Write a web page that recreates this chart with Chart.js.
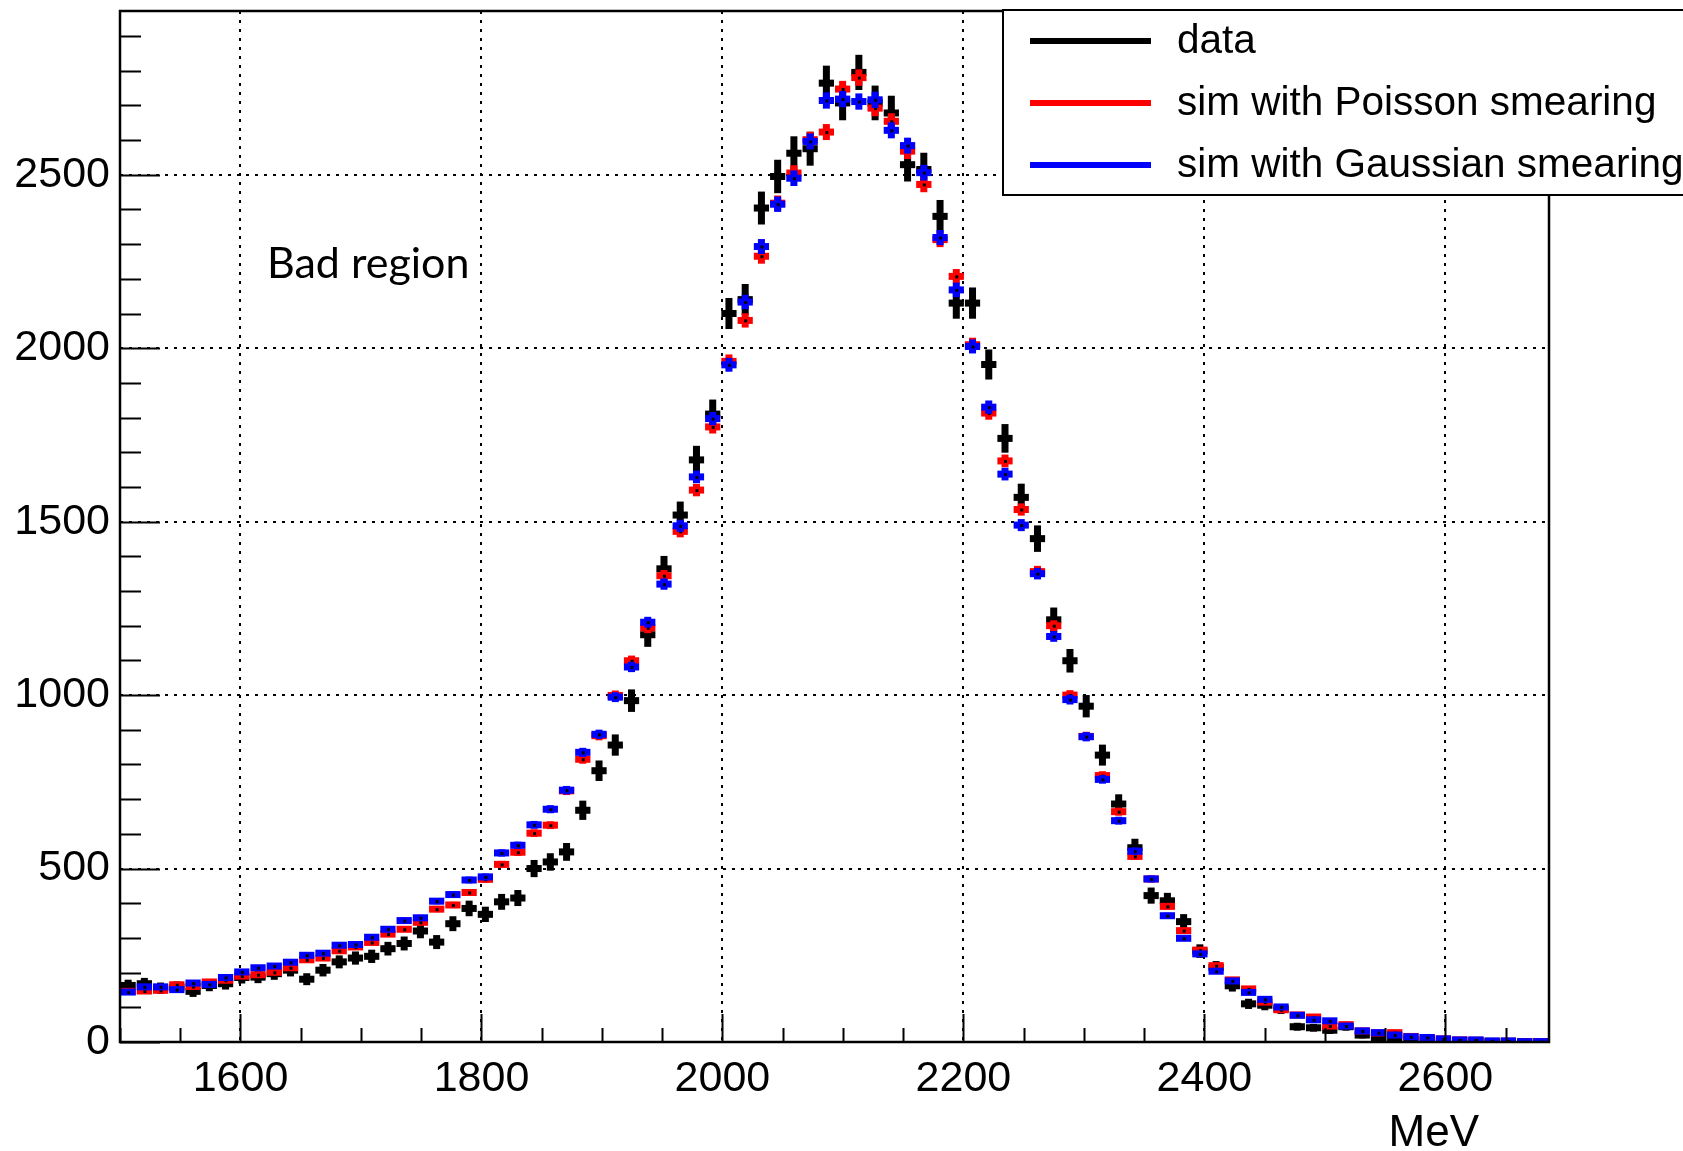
<!DOCTYPE html>
<html lang="en">
<head>
<meta charset="UTF-8">
<title>Data vs simulation, MeV spectrum</title>
<script src="https://cdn.jsdelivr.net/npm/chart.js"></script>
<style>
  body { margin: 0; background: #fff; }
  canvas { display: block; }
</style>
</head>
<body>
<canvas id="spec" width="1683" height="1151"></canvas>
<script>
// histogram binning (MeV)
const xMin = 1500;
const xMax = 2686;
const nBins = 88;
const yMax = 2972;

const xTickValues = [1600, 1800, 2000, 2200, 2400, 2600];
const yTickValues = [0, 500, 1000, 1500, 2000, 2500];

// bin contents
const dataCounts = [
  163, 168, 155, 158, 146, 163, 168, 186, 187, 197,
  207, 181, 207, 231, 242, 247, 269, 284, 320, 288,
  341, 385, 368, 404, 415, 500, 519, 548, 668, 782,
  856, 984, 1174, 1364, 1519, 1678, 1810, 2100, 2140, 2404,
  2495, 2562, 2575, 2764, 2707, 2795, 2707, 2678, 2529, 2515,
  2380, 2130, 2130, 1953, 1740, 1570, 1451, 1217, 1099, 968,
  827, 686, 560, 422, 407, 347, 262, 215, 162, 110,
  106, 95, 44, 41, 34, 44, 20, 12, 10, 6,
  6, 3, 4, 3, 2, 2, 1, 1
];
const poissonCounts = [
  146, 147, 149, 165, 160, 173, 178, 190, 194, 201,
  214, 237, 242, 263, 274, 287, 311, 325, 345, 383,
  395, 431, 469, 512, 547, 602, 625, 724, 815, 883,
  999, 1099, 1194, 1344, 1472, 1591, 1773, 1962, 2080, 2265,
  2418, 2505, 2601, 2623, 2747, 2780, 2692, 2654, 2568, 2472,
  2313, 2207, 2010, 1813, 1675, 1535, 1356, 1200, 1000, 881,
  768, 664, 535, 470, 391, 321, 265, 220, 179, 153,
  115, 93, 78, 72, 46, 50, 32, 26, 27, 16,
  13, 9, 6, 5, 1, 2, 1, 1
];
const gaussCounts = [
  144, 159, 159, 151, 170, 166, 186, 202, 214, 219,
  230, 250, 256, 279, 281, 302, 325, 350, 358, 406,
  425, 467, 476, 545, 567, 626, 671, 726, 835, 887,
  994, 1081, 1210, 1320, 1488, 1629, 1797, 1952, 2133, 2293,
  2415, 2490, 2596, 2714, 2718, 2711, 2716, 2628, 2584, 2506,
  2319, 2168, 2005, 1830, 1637, 1490, 1350, 1169, 987, 880,
  757, 638, 550, 470, 364, 299, 254, 204, 176, 143,
  123, 101, 77, 64, 61, 46, 32, 27, 20, 15,
  13, 9, 6, 6, 3, 3, 1, 1
];

const binWidth = (xMax - xMin) / nBins;
const toPoints = arr => arr.map((v, i) => ({ x: xMin + (i + 0.5) * binWidth, y: v }));

const FONT = "'Liberation Sans', Arial, sans-serif";

// draws each bin as a ROOT-style error cross (bin-width bar + vertical error bar)
const errorCrosses = {
  id: 'errorCrosses',
  afterDatasetsDraw(chart) {
    const { ctx, chartArea, scales: { x, y } } = chart;
    ctx.save();
    ctx.beginPath();
    ctx.rect(chartArea.left, chartArea.top, chartArea.width, chartArea.height);
    ctx.clip();
    chart.data.datasets.forEach(ds => {
      ctx.fillStyle = ds.borderColor;
      ds.data.forEach(p => {
        const px = x.getPixelForValue(p.x);
        const py = y.getPixelForValue(p.y);
        const x0 = x.getPixelForValue(p.x - binWidth / 2);
        const x1 = x.getPixelForValue(p.x + binWidth / 2);
        const errPx = py - y.getPixelForValue(p.y + Math.sqrt(p.y) * ds.errScale);
        const half = errPx * ds.errDraw + ds.errPad;
        ctx.fillRect(x0 + 0.5, py - 3.5, x1 - x0 - 1, 7);
        ctx.fillRect(px - 3.5, py - half, 7, half * 2);
      });
      if (ds.centerDot) {
        ctx.fillStyle = '#000';
        ds.data.forEach(p => {
          ctx.fillRect(x.getPixelForValue(p.x) - 1, y.getPixelForValue(p.y) - 1, 3, 3);
        });
      }
    });
    ctx.restore();
  }
};

// frame, inward tick marks, legend box and free text
const frameAndText = {
  id: 'frameAndText',
  afterDraw(chart) {
    const { ctx, chartArea: a, scales: { x, y } } = chart;
    ctx.save();
    ctx.strokeStyle = '#000';
    ctx.fillStyle = '#000';

    // y ticks
    ctx.lineWidth = 2;
    ctx.beginPath();
    for (let v = 0; v <= yMax; v += 100) {
      const py = Math.round(y.getPixelForValue(v)) + 0.5;
      const len = v % 500 === 0 ? 40 : 21;
      ctx.moveTo(a.left, py);
      ctx.lineTo(a.left + len, py);
    }
    // x ticks
    for (let v = xMin; v <= xMax; v += 50) {
      const px = Math.round(x.getPixelForValue(v)) + 0.5;
      const len = v % 200 === 0 ? 28 : 14;
      ctx.moveTo(px, a.bottom);
      ctx.lineTo(px, a.bottom - len);
    }
    ctx.stroke();

    ctx.lineWidth = 2.5;
    ctx.strokeRect(a.left, a.top, a.right - a.left, a.bottom - a.top);

    // axis title
    ctx.font = '44px ' + FONT;
    ctx.textAlign = 'right';
    ctx.textBaseline = 'alphabetic';
    ctx.fillText('MeV', 1479, 1146);

    // annotation
    ctx.font = '43px Lato, sans-serif';
    ctx.textAlign = 'left';
    ctx.fillText('Bad region', 267, 278);

    // legend
    const lx = 1003, ly = 10, lw = 720, lh = 185;
    ctx.fillStyle = '#fff';
    ctx.fillRect(lx, ly, lw, lh);
    ctx.lineWidth = 2;
    ctx.strokeRect(lx, ly, lw, lh);
    ctx.font = '40.5px ' + FONT;
    ctx.textBaseline = 'middle';
    const rowY = [41, 103, 165];
    chart.data.datasets.forEach((ds, i) => {
      ctx.fillStyle = ds.borderColor;
      ctx.fillRect(1030, rowY[i] - 3, 121, 6);
      ctx.fillStyle = '#000';
      ctx.fillText(ds.label, 1177, rowY[i] + 1);
    });
    ctx.restore();
  }
};

new Chart(document.getElementById('spec'), {
  type: 'scatter',
  data: {
    datasets: [
      { label: 'data', data: toPoints(dataCounts), borderColor: '#000000',
        errScale: 1, errDraw: 0.85, errPad: 2, centerDot: false },
      { label: 'sim with Poisson smearing', data: toPoints(poissonCounts), borderColor: '#ff0000',
        errScale: 0.45, errDraw: 1, errPad: 0, centerDot: true },
      { label: 'sim with Gaussian smearing', data: toPoints(gaussCounts), borderColor: '#0000ff',
        errScale: 0.45, errDraw: 1, errPad: 0, centerDot: true }
    ]
  },
  options: {
    responsive: false,
    animation: false,
    events: [],
    elements: { point: { radius: 0 } },
    layout: { padding: { top: 11, right: 134, left: 0, bottom: 0 } },
    plugins: {
      legend: { display: false },
      tooltip: { enabled: false }
    },
    scales: {
      x: {
        type: 'linear',
        min: xMin,
        max: xMax,
        afterBuildTicks: s => { s.ticks = xTickValues.map(v => ({ value: v })); },
        afterFit: s => { s.height = 109; s.paddingLeft = 0; s.paddingRight = 0; },
        grid: { color: '#000', lineWidth: 2, drawTicks: false },
        border: { display: false, dash: [3, 6] },
        ticks: {
          color: '#000', padding: 11, maxRotation: 0, autoSkip: false,
          font: { family: FONT, size: 43 },
          callback: v => String(v)
        }
      },
      y: {
        min: 0,
        max: yMax,
        afterBuildTicks: s => { s.ticks = yTickValues.map(v => ({ value: v })); },
        afterFit: s => { s.width = 120; s.paddingTop = 0; s.paddingBottom = 0; },
        grid: { color: '#000', lineWidth: 2, drawTicks: false },
        border: { display: false, dash: [3, 6] },
        ticks: {
          color: '#000', padding: 10, autoSkip: false,
          font: { family: FONT, size: 43 },
          callback: v => String(v)
        }
      }
    }
  },
  plugins: [errorCrosses, frameAndText]
});
</script>
</body>
</html>
